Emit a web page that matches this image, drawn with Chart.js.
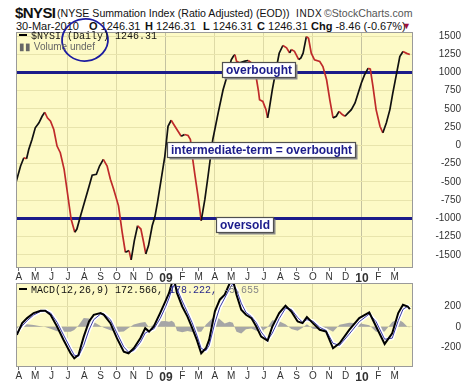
<!DOCTYPE html>
<html>
<head>
<meta charset="utf-8">
<script src="https://cdn.jsdelivr.net/npm/chart.js@4.4.1/dist/chart.umd.min.js"></script>
<style>
  body { margin: 0; width: 461px; height: 383px; overflow: hidden; background: #fff; position: relative;
         font-family: Arial, "Liberation Sans", sans-serif; color: #111; }
  .t { position: absolute; white-space: nowrap; line-height: 1; }
  .l2 { top: 21px; font-size: 11px; }
  canvas { position: absolute; left: 0; }
  #main { top: 0; }
  #macd { top: 270px; }
  .mono { font-family: "Liberation Mono", "DejaVu Sans Mono", monospace; font-size: 10px; }
  .dash { display: inline-block; width: 8px; height: 2px; background: #000; vertical-align: middle; margin-right: 4px; position: relative; top: -1px; }
</style>
</head>
<body>
<div class="t" style="left:15px;top:5px;font-size:15px;font-weight:bold;letter-spacing:-0.6px">$NYSI</div>
<div class="t" style="left:57px;top:8px;font-size:10.6px">(NYSE Summation Index (Ratio Adjusted) (EOD))</div>
<div class="t" style="left:296px;top:9px;font-size:10px;letter-spacing:0.6px">INDX</div>
<div class="t" style="left:324px;top:8px;font-size:10.6px;color:#555">©StockCharts.com</div>
<div class="t l2" style="left:16px">30-Mar-2010</div>
<div class="t l2" style="left:89px"><b>O</b> 1246.31</div>
<div class="t l2" style="left:145px"><b>H</b> 1246.31</div>
<div class="t l2" style="left:203px"><b>L</b> 1246.31</div>
<div class="t l2" style="left:257px"><b>C</b> 1246.31</div>
<div class="t l2" style="left:311px"><b>Chg</b> -8.46 (-0.67%)</div>
<div class="t" style="left:402px;top:22px;font-size:9px;color:#a0103a">&#9660;</div>

<canvas id="main" width="461" height="282"></canvas>
<canvas id="macd" width="461" height="113"></canvas>

<div class="t mono" style="left:19px;top:32px;z-index:2"><span class="dash"></span>$NYSI (Daily) 1246.31</div>
<div class="t" style="left:19px;top:42px;font-size:10px;color:#666;z-index:2">&#9646;&#9646; Volume undef</div>
<div class="t mono" style="left:19px;top:286px;z-index:2"><span class="dash"></span>MACD(12,26,9) 172.566, <span style="color:#2a2a8a">178.222,</span> <span style="color:#888">-5.655</span></div>

<script>
// month labels, Apr 2008 .. Mar 2010
const monthLabels = ['A','M','J','J','A','S','O','N','D','09','F','M','A','M','J','J','A','S','O','N','D','10','F','M'];

// $NYSI daily summation index (sampled off the chart)
const nysiDates = [
  '2008-03-27','2008-04-04','2008-04-10','2008-04-15','2008-04-19','2008-04-25','2008-05-01','2008-05-08','2008-05-14','2008-05-19',
  '2008-05-24','2008-05-30','2008-06-05','2008-06-11','2008-06-17','2008-06-24','2008-06-30','2008-07-07','2008-07-14','2008-07-18',
  '2008-07-25','2008-08-03','2008-08-10','2008-08-16','2008-08-24','2008-08-30','2008-09-06','2008-09-13','2008-09-19','2008-09-25',
  '2008-10-04','2008-10-11','2008-10-17','2008-10-24','2008-10-28','2008-11-03','2008-11-09','2008-11-15','2008-11-20','2008-11-24',
  '2008-11-29','2008-12-06','2008-12-11','2008-12-16','2008-12-23','2008-12-30','2009-01-05','2009-01-11','2009-01-18','2009-01-24',
  '2009-01-30','2009-02-05','2009-02-11','2009-02-15','2009-02-19','2009-02-23','2009-02-28','2009-03-06','2009-03-13','2009-03-19',
  '2009-03-28','2009-04-07','2009-04-16','2009-04-25','2009-05-01','2009-05-05','2009-05-08','2009-05-11','2009-05-17','2009-05-27',
  '2009-06-02','2009-06-08','2009-06-17','2009-06-21','2009-06-23','2009-06-29','2009-07-05','2009-07-08','2009-07-11','2009-07-17',
  '2009-07-24','2009-07-30','2009-08-06','2009-08-13','2009-08-19','2009-08-22','2009-08-28','2009-09-05','2009-09-09','2009-09-13',
  '2009-09-19','2009-09-23','2009-09-28','2009-10-04','2009-10-14','2009-10-20','2009-10-27','2009-11-02','2009-11-08','2009-11-14',
  '2009-11-19','2009-11-25','2009-11-30','2009-12-06','2009-12-12','2009-12-19','2009-12-25','2009-12-31','2010-01-06','2010-01-13',
  '2010-01-17','2010-01-22','2010-01-28','2010-02-04','2010-02-09','2010-02-15','2010-02-21','2010-02-26','2010-03-05','2010-03-11',
  '2010-03-17','2010-03-24','2010-03-30'
];
const nysiValues = [
  -490,-282,-168,-182,-55,82,241,310,400,455,
  378,332,218,-9,-100,-327,-645,-1009,-1191,-1146,
  -964,-737,-563,-409,-396,-282,-191,-282,-464,-600,
  -828,-1191,-1464,-1442,-1569,-1305,-1101,-1146,-1327,-1487,
  -1373,-1101,-982,-780,-464,-146,263,345,263,195,
  127,150,136,82,-191,-419,-691,-1032,-737,-419,
  82,446,764,992,1173,1223,1245,1155,1132,1155,
  1164,1132,927,746,627,604,491,378,491,764,
  1037,1264,1370,1337,1268,1314,1291,1177,1200,1264,
  1491,1469,1264,1173,1150,1082,900,627,378,400,
  468,423,400,446,491,582,718,855,968,1059,
  1046,809,491,263,173,310,491,718,992,1218,
  1287,1262,1246
];
const overboughtLevel = 1000;
const oversoldLevel = -1000;
const nysiTicks = [-1500,-1250,-1000,-750,-500,-250,0,250,500,750,1000,1250,1500];

// MACD(12,26,9) panel
const macdDates = [
  '2008-03-28','2008-04-07','2008-04-16','2008-04-28','2008-05-11','2008-05-20','2008-05-30','2008-06-11','2008-06-23','2008-07-06',
  '2008-07-13','2008-07-21','2008-07-31','2008-08-10','2008-08-19','2008-09-01','2008-09-07','2008-09-19','2008-10-01','2008-10-14',
  '2008-10-23','2008-11-02','2008-11-14','2008-11-23','2008-11-30','2008-12-09','2008-12-21','2008-12-31',
  '2009-01-07','2009-01-12','2009-01-17','2009-01-22','2009-02-01','2009-02-10','2009-02-18','2009-02-26','2009-03-06','2009-03-15',
  '2009-03-21','2009-04-01','2009-04-10','2009-04-19','2009-04-28','2009-05-04','2009-05-11','2009-05-20','2009-05-29','2009-06-08',
  '2009-06-17','2009-06-26','2009-07-08','2009-07-17','2009-07-30','2009-08-11','2009-08-22','2009-09-03','2009-09-12','2009-09-20',
  '2009-10-01','2009-10-14','2009-10-26','2009-11-08','2009-11-20','2009-12-08','2009-12-27',
  '2010-01-15','2010-01-28','2010-02-12','2010-02-25','2010-03-08','2010-03-17','2010-03-26','2010-03-30'
];
const macdValues = [
  -78,36,85,134,156,156,117,3,-127,-257,
  -306,-273,-95,52,117,134,117,36,-110,-241,
  -257,-208,-110,-13,-46,3,134,247,
  329,420,450,329,198,100,-10,-127,-257,-208,
  -127,150,264,312,420,460,312,166,117,85,
  3,-95,-134,3,134,205,150,52,36,95,
  36,-29,-46,-208,-159,-29,85,
  140,3,-166,-62,134,215,198,173
];
const signalValues = [
  -60,10,60,115,150,158,135,45,-80,-210,
  -275,-285,-180,-30,70,125,125,70,-60,-195,
  -245,-230,-150,-60,-40,-20,80,190,
  280,360,410,370,250,140,40,-80,-210,-230,
  -180,40,190,280,370,420,360,230,140,100,
  40,-50,-130,-60,80,180,170,90,45,70,
  55,-5,-35,-160,-180,-70,50,
  125,50,-120,-110,60,170,200,178
];
const histValues = [
  -18,26,25,19,6,-2,-18,-42,-47,-47,
  -31,12,85,82,47,9,-8,-34,-50,-46,
  -12,22,40,47,-6,23,54,57,
  49,60,40,-41,-52,-40,-50,-47,-47,22,
  53,110,74,32,50,40,-48,-64,-23,-15,
  -37,-45,-4,63,54,25,-20,-38,-9,25,
  -19,-24,-11,-48,21,41,35,
  15,-47,-46,48,74,45,-2,-5
];
const macdTicks = [-200, 0, 200];

// date string -> fractional month index (0 = 1 Apr 2008)
function monthIndex(s) {
  const [y, m, d] = s.split('-').map(Number);
  const days = new Date(y, m, 0).getDate();
  return (y - 2008) * 12 + (m - 4) + (d - 1) / days;
}
function pts(dates, vals) {
  return dates.map((d, i) => ({ x: monthIndex(d), y: vals[i] }));
}

const xMin = -0.18, xMax = 24.13;
const FONT = 'Arial, "Liberation Sans", sans-serif';

const panelBg = {
  id: 'panelBg',
  beforeDraw(chart) {
    const { ctx, chartArea: a } = chart;
    ctx.save();
    ctx.fillStyle = '#fdfac6';
    ctx.fillRect(a.left, a.top, a.right - a.left, a.bottom - a.top);
    ctx.restore();
  },
  afterDraw(chart) {
    const { ctx, chartArea: a } = chart;
    ctx.save();
    ctx.strokeStyle = '#9a9a9a';
    ctx.lineWidth = 1;
    ctx.strokeRect(a.left + 0.5, a.top + 0.5, a.right - a.left - 1, a.bottom - a.top - 1);
    ctx.restore();
  }
};

// text boxes + the hand drawn circle on the price panel
const notes = {
  id: 'notes',
  afterDraw(chart, args, opts) {
    const { ctx } = chart;
    const xs = chart.scales.x, ys = chart.scales.y;
    ctx.save();
    ctx.font = 'bold 12px ' + FONT;
    opts.boxes.forEach(b => {
      const w = ctx.measureText(b.text).width + 7;
      const h = 15;
      const x = Math.round(xs.getPixelForValue(b.m)) + 0.5;
      const y = Math.round(ys.getPixelForValue(b.v) - h / 2) + 0.5;
      ctx.fillStyle = '#8c8c8c';
      ctx.fillRect(x + 2, y + 2, w, h);
      ctx.fillStyle = '#fff';
      ctx.fillRect(x, y, w, h);
      ctx.strokeStyle = '#505050';
      ctx.lineWidth = 1.2;
      ctx.strokeRect(x, y, w, h);
      ctx.fillStyle = '#1c1c8c';
      ctx.textBaseline = 'middle';
      ctx.fillText(b.text, x + 3.5, y + h / 2 + 0.5);
    });
    ctx.strokeStyle = '#1c1ca0';
    ctx.lineWidth = 1.8;
    ctx.beginPath();
    ctx.ellipse(85, 40, 23, 21, -0.1, 0, Math.PI * 2);
    ctx.stroke();
    ctx.restore();
  }
};

function xScale(h) {
  return {
    type: 'linear', min: xMin, max: xMax,
    afterBuildTicks: s => { s.ticks = monthLabels.map((_, i) => ({ value: i })); },
    afterFit: s => { s.height = h; },
    grid: {
      drawTicks: true, tickLength: 3,
      tickColor: '#777',
      color: c => {
        const v = c.tick ? c.tick.value : -1;
        if (v === 9 || v === 21) return '#c4c2a0';
        return (v > 0 && v % 3 === 0) ? '#dedaa6' : 'rgba(0,0,0,0)';
      }
    },
    border: { display: false },
    ticks: {
      autoSkip: false, maxRotation: 0, padding: 0, color: '#333',
      callback: v => monthLabels[v],
      font: c => /\d/.test(monthLabels[c.index] || '')
        ? { family: FONT, size: 12, weight: 'bold' }
        : { family: FONT, size: 10 }
    }
  };
}

function yScale(min, max, tickList) {
  return {
    position: 'right', min: min, max: max,
    afterBuildTicks: s => { s.ticks = tickList.map(v => ({ value: v })); },
    afterFit: s => { s.width = 48; },
    grid: { drawTicks: false, color: '#e8e4ac' },
    border: { display: false },
    ticks: { crossAlign: 'far', padding: 2, color: '#333', font: { family: FONT, size: 10 },
             callback: v => String(v) }
  };
}

new Chart(document.getElementById('main'), {
  type: 'line',
  data: {
    datasets: [
      {
        data: pts(nysiDates, nysiValues),
        borderColor: '#111', borderWidth: 1.7, pointRadius: 0, tension: 0, order: 0,
        segment: { borderColor: c => c.p1.parsed.y >= c.p0.parsed.y ? '#111111' : '#bf2a2a' }
      },
      { data: [{ x: xMin, y: overboughtLevel }, { x: xMax, y: overboughtLevel }],
        borderColor: '#1c1c8a', borderWidth: 3, pointRadius: 0, order: 1 },
      { data: [{ x: xMin, y: oversoldLevel }, { x: xMax, y: oversoldLevel }],
        borderColor: '#1c1c8a', borderWidth: 3, pointRadius: 0, order: 1 }
    ]
  },
  options: {
    responsive: false, animation: false,
    layout: { padding: { left: 16, top: 32, right: 0, bottom: 0 } },
    plugins: {
      legend: { display: false }, tooltip: { enabled: false },
      notes: {
        boxes: [
          { text: 'overbought', m: 12.43, v: 1043 },
          { text: 'intermediate-term = overbought', m: 9.06, v: -50 },
          { text: 'oversold', m: 12.06, v: -1085 }
        ]
      }
    },
    scales: {
      x: xScale(14),
      y: yScale(-1680, 1555, nysiTicks)
    }
  },
  plugins: [panelBg, notes]
});

new Chart(document.getElementById('macd'), {
  type: 'line',
  data: {
    datasets: [
      { data: pts(macdDates, macdValues), borderColor: '#000', borderWidth: 2, pointRadius: 0, order: 0 },
      { data: pts(macdDates, signalValues), borderColor: '#3a3aa8', borderWidth: 1, pointRadius: 0, order: 1 },
      { data: pts(macdDates, signalValues), borderColor: '#ffffff', borderWidth: 4, pointRadius: 0, order: 2 },
      { data: pts(macdDates, histValues), borderWidth: 0, pointRadius: 0, order: 3,
        fill: 'origin', backgroundColor: '#a6a6a6', borderColor: 'rgba(0,0,0,0)' }
    ]
  },
  options: {
    responsive: false, animation: false,
    layout: { padding: { left: 16, top: 13, right: 0, bottom: 0 } },
    plugins: { legend: { display: false }, tooltip: { enabled: false } },
    scales: {
      x: xScale(16),
      y: yScale(-390, 426, macdTicks)
    }
  },
  plugins: [panelBg]
});
</script>
</body>
</html>
